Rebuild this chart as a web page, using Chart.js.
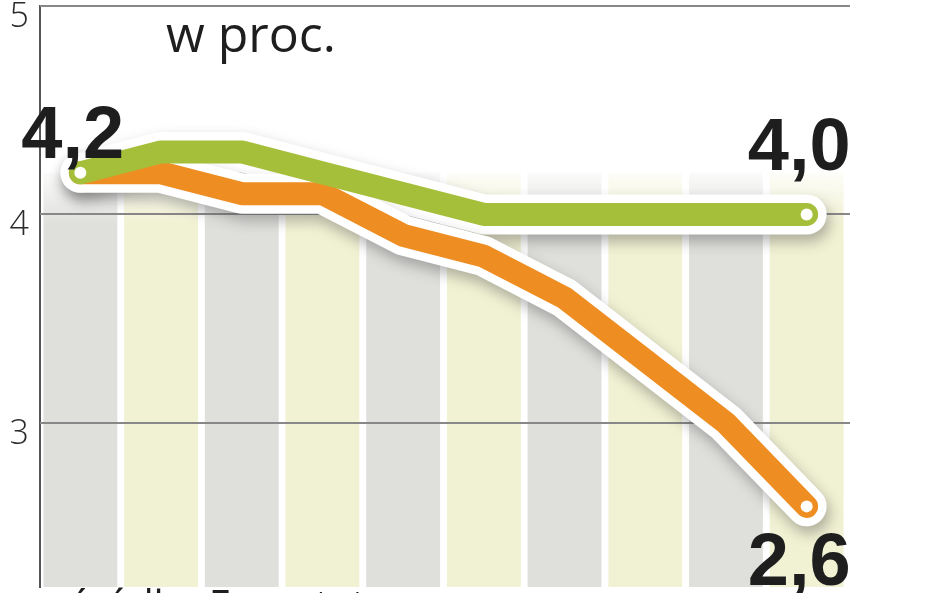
<!DOCTYPE html>
<html>
<head>
<meta charset="utf-8">
<script src="https://cdn.jsdelivr.net/npm/chart.js@4.4.1/dist/chart.umd.min.js"></script>
<style>
  html, body { margin: 0; padding: 0; background: #fff; }
  #wrap { position: relative; width: 948px; height: 593px; }
</style>
</head>
<body>
<div id="wrap"><canvas id="chart"></canvas></div>
<script>
// okresy (podpisy osi X nie są widoczne na wycinku)
const categories = ['1', '2', '3', '4', '5', '6', '7', '8', '9', '10'];
const greenValues = [4.2, 4.3, 4.3, 4.2, 4.1, 4.0, 4.0, 4.0, 4.0, 4.0];
const orangeValues = [4.2, 4.2, 4.1, 4.1, 3.9, 3.8, 3.6, 3.3, 3.0, 2.6];
const bandTops = [4.2, 4.2, 4.2, 4.2, 4.2, 4.2, 4.2, 4.2, 4.2, 4.2];
const yTicks = [3, 4, 5];
const unitLabel = 'w proc.';
const sourceLabel = 'źródło: Eurostat';

const GREEN = '#a6bf3a';
const ORANGE = '#ee8d22';
const bandColors = ['223,224,220', '241,241,211'];

const endsOnly = (arr, r) => arr.map((v, i) => (i === 0 || i === arr.length - 1) ? r : 0);
const fmt = v => v.toFixed(1).replace('.', ',');

// kolumny w tle z rozmyciem u góry
function bandFill(ctx) {
  const chart = ctx.chart;
  const rgb = bandColors[ctx.dataIndex % 2];
  if (!chart.chartArea) return 'rgb(' + rgb + ')';
  const y = chart.scales.y;
  const g = chart.ctx.createLinearGradient(0, y.getPixelForValue(4.24), 0, y.getPixelForValue(3.95));
  g.addColorStop(0, 'rgba(' + rgb + ',0)');
  g.addColorStop(1, 'rgba(' + rgb + ',1)');
  return g;
}

const decor = {
  id: 'decor',
  beforeDatasetDraw(chart, args) {
    const ds = chart.data.datasets[args.index];
    if (ds.outline) {
      const ctx = chart.ctx;
      ctx.save();
      ctx.shadowColor = 'rgba(70,70,70,0.4)';
      ctx.shadowBlur = 14;
      ctx.shadowOffsetX = 3;
      ctx.shadowOffsetY = 7;
    }
  },
  afterDatasetDraw(chart, args) {
    const ds = chart.data.datasets[args.index];
    const { ctx, chartArea, scales: { y } } = chart;
    if (ds.outline) ctx.restore();
    if (args.meta.type === 'bar') {
      // linie siatki nad kolumnami, pod liniami wykresu
      ctx.save();
      ctx.strokeStyle = '#888888';
      ctx.lineWidth = 2;
      y.ticks.forEach(t => {
        const py = Math.round(y.getPixelForValue(t.value));
        ctx.beginPath();
        ctx.moveTo(chartArea.left, py);
        ctx.lineTo(chartArea.right + 3, py);
        ctx.stroke();
      });
      ctx.restore();
    }
  },
  afterDatasetsDraw(chart) {
    const ctx = chart.ctx;
    const green = chart.getDatasetMeta(3).data;
    const orange = chart.getDatasetMeta(2).data;
    const gFirst = green[0], gLast = green[green.length - 1], oLast = orange[orange.length - 1];
    ctx.save();
    ctx.fillStyle = '#1e1e1e';
    ctx.textBaseline = 'alphabetic';
    ctx.font = '50px "Open Sans", "Liberation Sans", sans-serif';
    ctx.textAlign = 'left';
    ctx.fillText(unitLabel, 166, 52);
    ctx.font = 'bold 74px "Liberation Sans", Arial, sans-serif';
    ctx.fillText(fmt(greenValues[0]), gFirst.x - 59, gFirst.y - 15);
    ctx.textAlign = 'right';
    ctx.fillText(fmt(greenValues[greenValues.length - 1]), gLast.x + 44, gLast.y - 44);
    ctx.fillText(fmt(orangeValues[orangeValues.length - 1]), oLast.x + 44, oLast.y + 79);
    ctx.textAlign = 'left';
    ctx.font = '40px "Open Sans", "Liberation Sans", sans-serif';
    ctx.fillText(sourceLabel, 70, 619);
    ctx.restore();
  }
};

const lineCommon = {
  type: 'line',
  tension: 0,
  borderCapStyle: 'round',
  borderJoinStyle: 'round',
  clip: false,
  pointBorderWidth: 0,
  pointHoverRadius: 0
};

new Chart(document.getElementById('chart'), {
  type: 'bar',
  data: {
    labels: categories,
    datasets: [
      {
        type: 'bar',
        data: bandTops,
        grouped: false,
        backgroundColor: bandFill,
        borderWidth: 0,
        barPercentage: 1,
        categoryPercentage: 0.915,
        order: 5
      },
      Object.assign({}, lineCommon, {
        data: orangeValues,
        borderColor: '#ffffff',
        borderWidth: 40,
        pointRadius: 0,
        outline: true,
        order: 3
      }),
      Object.assign({}, lineCommon, {
        data: orangeValues,
        borderColor: ORANGE,
        borderWidth: 23,
        pointRadius: endsOnly(orangeValues, 6),
        pointBackgroundColor: '#ffffff',
        order: 1
      }),
      Object.assign({}, lineCommon, {
        data: greenValues,
        borderColor: GREEN,
        borderWidth: 23,
        pointRadius: endsOnly(greenValues, 6),
        pointBackgroundColor: '#ffffff',
        order: 0
      }),
      Object.assign({}, lineCommon, {
        data: greenValues,
        borderColor: '#ffffff',
        borderWidth: 40,
        pointRadius: 0,
        outline: true,
        order: 3
      })
    ]
  },
  options: {
    responsive: true,
    maintainAspectRatio: false,
    animation: false,
    layout: { padding: { top: 5, right: 101, bottom: 0, left: 0 } },
    plugins: {
      legend: { display: false },
      tooltip: { enabled: false }
    },
    scales: {
      x: { type: 'category', offset: true, display: false },
      y: {
        min: 2.2133,
        max: 5,
        afterBuildTicks: s => { s.ticks = yTicks.map(v => ({ value: v })); },
        afterFit: s => { s.width = 40; s.paddingTop = 0; s.paddingBottom = 0; },
        grid: { display: false, drawTicks: false },
        border: { display: true, color: '#555555', width: 2 },
        ticks: {
          padding: 11,
          labelOffset: 11,
          color: '#2a2a2a',
          font: { family: '"Open Sans", "Liberation Sans", sans-serif', size: 34, weight: 300 }
        }
      }
    }
  },
  plugins: [decor]
});
</script>
</body>
</html>
